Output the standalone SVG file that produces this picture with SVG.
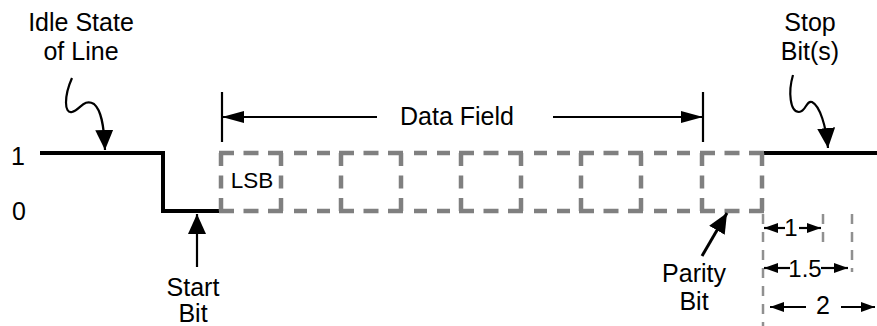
<svg xmlns="http://www.w3.org/2000/svg" width="877" height="326" viewBox="0 0 877 326">
<style>
text{font-family:"Liberation Sans",Arial,sans-serif;font-size:25px;fill:#000;text-anchor:middle}
.sig{fill:none;stroke:#000;stroke-width:4;stroke-linecap:square;stroke-linejoin:miter}
.bh{fill:none;stroke:#808080;stroke-width:4.5;stroke-dasharray:15 9.5}
.bv{fill:none;stroke:#808080;stroke-width:4.5;stroke-dasharray:13 9.5}
.bc{fill:none;stroke:#808080;stroke-width:4.5;stroke-dasharray:0 11 13 10 13 40}
.dim{fill:none;stroke:#909090;stroke-width:2.5;stroke-dasharray:10 8}
.ln{fill:none;stroke:#000;stroke-width:2.2}
</style>
<defs>
<marker id="ah" viewBox="0 0 22 12" refX="22" refY="6" markerWidth="22" markerHeight="12" markerUnits="userSpaceOnUse" orient="auto">
<path d="M0,0 L22,6 L0,12 Z" fill="#000"/>
</marker>
<marker id="ahs" viewBox="0 0 14 10" refX="14" refY="5" markerWidth="14" markerHeight="10" markerUnits="userSpaceOnUse" orient="auto">
<path d="M0,0 L14,5 L0,10 Z" fill="#000"/>
</marker>
<marker id="ahm" viewBox="0 0 20 18" refX="20" refY="9" markerWidth="20" markerHeight="18" markerUnits="userSpaceOnUse" orient="auto">
<path d="M0,0 L20,9 L0,18 Z" fill="#000"/>
</marker>
</defs>

<g id="levels">
<text x="18" y="165">1</text>
<text x="19" y="220">0</text>
</g>

<g id="signal">
<polyline class="sig" points="42,153 163,153 163,211 219,211"/>
<line class="sig" x1="765" y1="153" x2="877" y2="153"/>
</g>

<g id="box-lsb">
<line class="bh" x1="219" y1="153" x2="283" y2="153"/>
<line class="bh" x1="219" y1="211" x2="283" y2="211"/>
<line class="bv" x1="221" y1="153" x2="221" y2="211"/>
<line class="bv" x1="281" y1="153" x2="281" y2="211"/>
<text x="252" y="188" style="font-size:22.5px">LSB</text>
</g>
<g id="box-2">
<line class="bh" x1="339" y1="153" x2="403" y2="153"/>
<line class="bh" x1="339" y1="211" x2="403" y2="211"/>
<line class="bv" x1="341" y1="153" x2="341" y2="211"/>
<line class="bv" x1="401" y1="153" x2="401" y2="211"/>
</g>
<g id="box-3">
<line class="bh" x1="459" y1="153" x2="523" y2="153"/>
<line class="bh" x1="459" y1="211" x2="523" y2="211"/>
<line class="bv" x1="461" y1="153" x2="461" y2="211"/>
<line class="bv" x1="521" y1="153" x2="521" y2="211"/>
</g>
<g id="box-4">
<line class="bh" x1="579" y1="153" x2="643" y2="153"/>
<line class="bh" x1="579" y1="211" x2="643" y2="211"/>
<line class="bv" x1="581" y1="153" x2="581" y2="211"/>
<line class="bv" x1="641" y1="153" x2="641" y2="211"/>
</g>
<g id="box-parity">
<line class="bh" x1="700" y1="153" x2="764" y2="153"/>
<line class="bh" x1="700" y1="211" x2="764" y2="211"/>
<line class="bv" x1="702" y1="153" x2="702" y2="211"/>
<line class="bv" x1="762" y1="153" x2="762" y2="211"/>
</g>
<g id="box-links">
<line class="bc" x1="283" y1="153" x2="339" y2="153"/>
<line class="bc" x1="283" y1="211" x2="339" y2="211"/>
<line class="bc" x1="403" y1="153" x2="459" y2="153"/>
<line class="bc" x1="403" y1="211" x2="459" y2="211"/>
<line class="bc" x1="523" y1="153" x2="579" y2="153"/>
<line class="bc" x1="523" y1="211" x2="579" y2="211"/>
<line class="bc" x1="643" y1="153" x2="700" y2="153"/>
<line class="bc" x1="643" y1="211" x2="700" y2="211"/>
</g>

<g id="idle-label">
<text x="81" y="31">Idle State</text>
<text x="81" y="60">of Line</text>
</g>

<g id="data-field">
<text x="457" y="125">Data Field</text>
</g>

<g id="stop-label">
<text x="810" y="31">Stop</text>
<text x="810" y="60">Bit(s)</text>
</g>

<g id="start-label">
<text x="193" y="296">Start</text>
<text x="193" y="322">Bit</text>
</g>

<g id="parity-label">
<text x="694" y="282">Parity</text>
<text x="694" y="310">Bit</text>
</g>

<g id="stop-dims">
<line class="dim" x1="763" y1="214" x2="763" y2="326"/>
<line class="dim" x1="823" y1="214" x2="823" y2="242"/>
<line class="dim" x1="852" y1="214" x2="852" y2="272"/>
<text x="791" y="236" style="font-size:24px">1</text>
<text x="805" y="277" style="font-size:24px">1.5</text>
<text x="823" y="314">2</text>
</g>

<g id="connectors">
<line class="ln" x1="222" y1="92" x2="222" y2="142"/>
<line class="ln" x1="703" y1="92" x2="703" y2="142"/>
<line class="ln" x1="377" y1="117" x2="222" y2="117" marker-end="url(#ah)"/>
<line class="ln" x1="553" y1="117" x2="703" y2="117" marker-end="url(#ah)"/>
<path class="ln" d="M72,78 C64,96 64,114 72,112 C80,110 84,98 94,104 C101,110 104,124 105,150" marker-end="url(#ahm)"/>
<path class="ln" d="M793,75 C788,92 790,112 799,112 C806,112 806,100 812,102 C820,106 826,126 828,148" marker-end="url(#ahm)"/>
<line class="ln" x1="197" y1="267" x2="197" y2="214" marker-end="url(#ahm)"/>
<line class="ln" x1="702" y1="256" x2="727" y2="213" marker-end="url(#ahm)" style="stroke-width:3"/>
<line class="ln" x1="785" y1="228" x2="764" y2="228" marker-end="url(#ahs)"/>
<line class="ln" x1="799" y1="228" x2="821" y2="228" marker-end="url(#ahs)"/>
<line class="ln" x1="790" y1="268" x2="764" y2="268" marker-end="url(#ahs)"/>
<line class="ln" x1="821" y1="268" x2="848" y2="268" marker-end="url(#ahs)"/>
<line class="ln" x1="806" y1="307" x2="770" y2="307" marker-end="url(#ahs)"/>
<line class="ln" x1="841" y1="307" x2="875" y2="307" marker-end="url(#ahs)"/>
</g>
</svg>
